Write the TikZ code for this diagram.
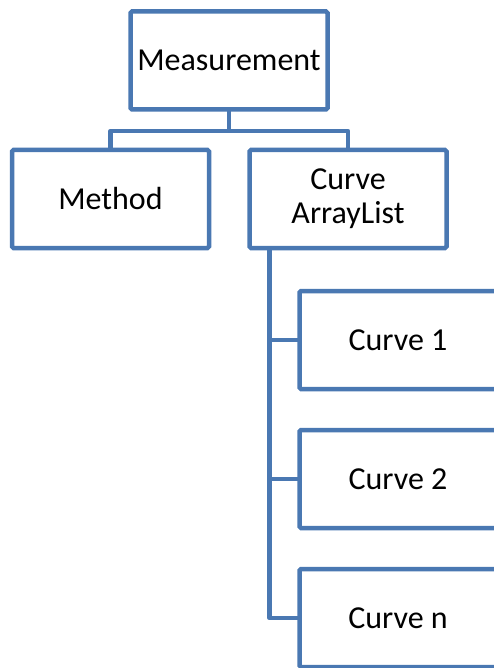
\documentclass[tikz,border=0pt]{standalone}
\usepackage{fontspec}
\setmainfont{Carlito}
\usetikzlibrary{calc}
\definecolor{boxblue}{HTML}{4A78B2}
\tikzset{
  box/.style={draw=boxblue, line width=4.5pt, fill=white, rounded corners=1.5pt,
    minimum width=197pt, minimum height=98pt, inner sep=0pt, outer sep=0pt,
    align=center, font=\fontsize{32}{34}\selectfont},
  conn/.style={draw=boxblue, line width=4.5pt, line join=round}
}
\begin{document}
\begin{tikzpicture}[x=1pt,y=-1pt]
\useasboundingbox (0,0) rectangle (494,668);
\node[box] (meas) at (229,60.5) {Measurement};
\node[box] (method) at (110.5,199) {Method};
\node[box] (cal) at (348,199) {Curve\\ArrayList};
\node[box] (c1) at (398,340) {Curve 1};
\node[box] (c2) at (398,479) {Curve 2};
\node[box] (cn) at (398,618) {Curve n};
\coordinate (top) at ($(cal.south west)+(20,0)$);
\draw[conn] (meas.south) -- ++(0,21.5) coordinate (hub);
\draw[conn] (method.north) |- (hub) -| (cal.north);
\draw[conn] (top) |- (cn.west);
\draw[conn] (c1.west) -- (c1.west -| top);
\draw[conn] (c2.west) -- (c2.west -| top);
\end{tikzpicture}
\end{document}
